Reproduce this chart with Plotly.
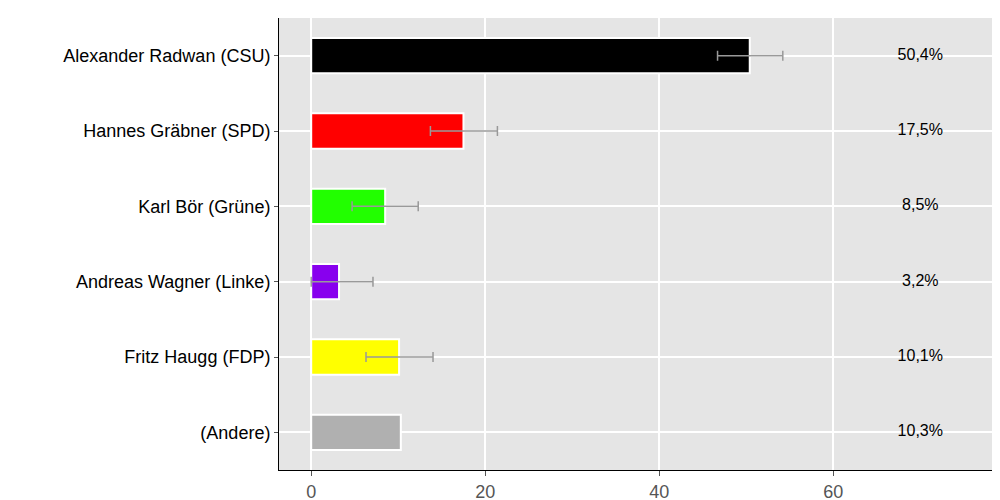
import plotly.graph_objects as go

candidates = ["Alexander Radwan (CSU)", "Hannes Gräbner (SPD)", "Karl Bör (Grüne)",
              "Andreas Wagner (Linke)", "Fritz Haugg (FDP)", "(Andere)"]
values = [50.4, 17.5, 8.5, 3.2, 10.1, 10.3]
err_low = [46.7, 13.7, 4.7, 0.0, 6.3, None]
err_high = [54.2, 21.4, 12.3, 7.1, 14.0, None]
colors = ["#000000", "#ff0000", "#22ff00", "#8800ee", "#ffff00", "#b0b0b0"]
labels = ["50,4%", "17,5%", "8,5%", "3,2%", "10,1%", "10,3%"]

fig = go.Figure()
fig.add_bar(y=candidates, x=values, orientation="h", width=0.47,
            marker=dict(color=colors, line=dict(color="white", width=2)),
            hoverinfo="skip")
ey, ex, ep, em = [], [], [], []
for c, v, lo, hi in zip(candidates, values, err_low, err_high):
    if lo is None:
        continue
    mid = (lo + hi) / 2
    ey.append(c); ex.append(mid); ep.append(hi - mid); em.append(mid - lo)
fig.add_scatter(y=ey, x=ex, mode="markers", marker=dict(size=0.1, color="rgba(0,0,0,0)"),
                error_x=dict(type="data", array=ep, arrayminus=em, symmetric=False,
                             color="#999999", thickness=1.5, width=5),
                hoverinfo="skip")
fig.add_scatter(y=candidates, x=[70]*len(candidates), mode="text", text=labels,
                textfont=dict(size=16, color="black"), hoverinfo="skip")

fig.update_layout(
    width=1000, height=500, showlegend=False,
    margin=dict(l=271, r=12, t=10, b=38, autoexpand=False),
    plot_bgcolor="#e5e5e5", paper_bgcolor="white",
    font=dict(family="Liberation Sans, Arial", size=18, color="black"),
    xaxis=dict(range=[-3.7, 78.7], tickvals=[0, 20, 40, 60], gridcolor="white",
               gridwidth=1.5, zeroline=False, showline=True, linecolor="black",
               ticks="outside", tickcolor="#555", tickfont=dict(color="#555", size=18),
               automargin=False),
    yaxis=dict(autorange="reversed", categoryorder="array", categoryarray=candidates,
               gridcolor="white", gridwidth=1.5, showline=True, linecolor="black",
               ticks="outside", tickcolor="#555", ticklen=4, automargin=False),
)
fig.write_html("out.html")
